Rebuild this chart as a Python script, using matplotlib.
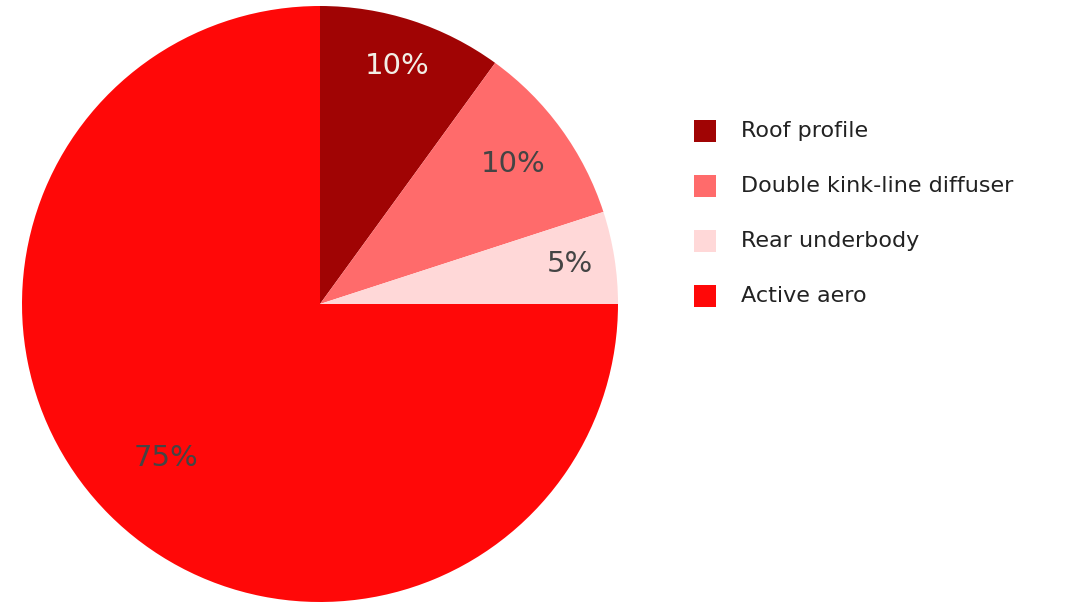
import matplotlib
matplotlib.use("Agg")
import matplotlib.pyplot as plt
from matplotlib.patches import Rectangle
import numpy as np

labels = ["Roof profile", "Double kink-line diffuser", "Rear underbody", "Active aero"]
values = [10, 10, 5, 75]
colors = ["#a00404", "#ff6b6b", "#ffd8d8", "#ff0808"]
pct_colors = ["#f2efe6", "#444444", "#444444", "#444444"]

fig = plt.figure(figsize=(10.83, 6.06), dpi=100)
W, H = 1083, 606
cx, cy, r = 320, 304, 298
ax = fig.add_axes([(cx - r) / W, (H - cy - r) / H, 2 * r / W, 2 * r / H])
wedges, texts, autotexts = ax.pie(
    values, colors=colors, startangle=90, counterclock=False,
    autopct=lambda p: f"{p:.0f}%", pctdistance=0.8, radius=1,
    wedgeprops=dict(linewidth=0),
    textprops=dict(fontsize=21, family="DejaVu Sans"))
label_dist = [0.84, 0.80, 0.85, 0.73]
for w, t, c, d in zip(wedges, autotexts, pct_colors, label_dist):
    t.set_color(c)
    ang = np.deg2rad((w.theta1 + w.theta2) / 2)
    t.set_position((d * np.cos(ang), d * np.sin(ang)))
ax.set_xlim(-1, 1)
ax.set_ylim(-1, 1)
ax.set_aspect("equal")
ax.axis("off")

# legend
y0, dy = 131, 55
sq = 22
for i, (lab, col) in enumerate(zip(labels, colors)):
    yc = y0 + i * dy
    fig.patches.append(Rectangle((694 / W, (H - yc - sq / 2) / H), sq / W, sq / H,
                                 transform=fig.transFigure, facecolor=col, edgecolor="none"))
    fig.text(741 / W, (H - yc) / H, lab, fontsize=16, color="#222222",
             va="center", ha="left", family="DejaVu Sans")

fig.savefig("out.png", dpi=100)
